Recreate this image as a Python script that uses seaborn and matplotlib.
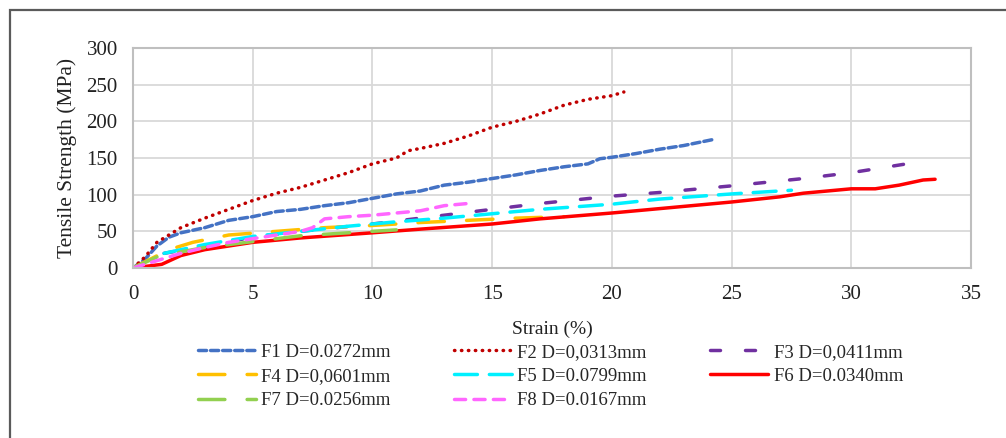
import matplotlib
matplotlib.use('Agg')
import matplotlib.pyplot as plt
import seaborn as sns
from matplotlib.patches import Rectangle

# Strain (%) / tensile strength (MPa)
f1_x = [0, 0.5, 1, 1.5, 2, 3, 4, 5, 6, 7, 8, 9, 10, 11, 12, 13, 14, 15, 16, 17, 18, 19, 19.5, 20, 21, 22, 23, 24.2]
f1_y = [0, 12, 30, 42, 48, 55, 65, 70, 77, 80, 85, 89, 95, 101, 105, 113, 117, 122, 127, 133, 138, 142, 149, 151, 156, 162, 167, 175]

f2_x = [0, 0.5, 1, 2, 3, 4, 5, 6, 7, 8, 9, 10, 11, 11.5, 12, 13, 14, 15, 16, 17, 18, 19, 20, 20.5]
f2_y = [0, 15, 35, 55, 68, 80, 92, 102, 110, 120, 130, 142, 150, 160, 163, 170, 180, 192, 200, 210, 222, 230, 235, 240]

f3_x = [1.3, 3, 5, 7, 10, 12, 14, 15, 17, 20, 22, 25, 28, 30, 32.5]
f3_y = [20, 30, 42, 50, 60, 68, 76, 80, 88, 98, 103, 112, 122, 130, 143]

f4_x = [0, 1.5, 2.5, 4, 6, 8, 10, 12, 14, 16, 18]
f4_y = [0, 25, 35, 45, 50, 55, 58, 62, 65, 68, 70]

f5_x = [1.3, 2, 3, 5, 7, 9, 11, 13, 15, 17, 20, 22, 25, 27.5]
f5_y = [20, 25, 32, 43, 50, 57, 63, 68, 74, 80, 87, 94, 101, 106]

f6_x = [0, 1.2, 2, 3, 4, 5, 7, 10, 12, 15, 17, 20, 22, 24, 25, 27, 28, 30, 31, 32, 33, 33.5]
f6_y = [0, 5, 17, 25, 30, 35, 41, 48, 53, 60, 67, 75, 81, 87, 90, 97, 102, 108, 108, 113, 120, 121]

f7_x = [0, 1, 2, 3, 4, 5, 6, 7, 8, 9, 10, 11]
f7_y = [0, 15, 22, 28, 32, 36, 40, 44, 46, 48, 50, 52]

f8_x = [0, 1, 2, 3, 4, 5, 6, 7, 7.5, 8, 9, 10, 11, 12, 13, 14, 14.2]
f8_y = [0, 10, 20, 28, 35, 40, 45, 50, 55, 67, 70, 72, 75, 78, 85, 88, 92]

labels = ['F1 D=0.0272mm', 'F2 D=0,0313mm', 'F3 D=0,0411mm', 'F4 D=0,0601mm',
          'F5 D=0.0799mm', 'F6 D=0.0340mm', 'F7 D=0.0256mm', 'F8 D=0.0167mm']

series = [(f1_x, f1_y), (f2_x, f2_y), (f3_x, f3_y), (f4_x, f4_y),
          (f5_x, f5_y), (f6_x, f6_y), (f7_x, f7_y), (f8_x, f8_y)]

colors = ['#4472C4', '#C00000', '#7030A0', '#FFC000',
          '#00F0FF', '#FF0000', '#92D050', '#FF66FF']
styles = [(0, (5.8, 2.9)), (0, (0.3, 4.7)), (0, (7.2, 18)), (0, (19, 16)),
          (0, (16.5, 8.6)), '-', (0, (19, 16)), (0, (8, 6))]

sns.set_theme(style='whitegrid', rc={'grid.color': '#D9D9D9', 'grid.linewidth': 1.3,
                                     'axes.edgecolor': '#BFBFBF', 'axes.linewidth': 1.5,
                                     'lines.scale_dashes': False})
plt.rcParams['font.family'] = ['Liberation Serif', 'DejaVu Serif']

fig = plt.figure(figsize=(10.06, 4.38), dpi=100)
ax = fig.add_axes([133 / 1006, 1 - 268 / 438, (971 - 133) / 1006, (268 - 48) / 438])

for (xs, ys), lab, c, ls in zip(series, labels, colors, styles):
    sns.lineplot(x=xs, y=ys, ax=ax, color=c, linewidth=2.5, label=lab, linestyle=ls,
                 sort=False)
for ln in ax.get_lines():
    ln.set_dash_capstyle('round')

ax.set_xlim(0, 35)
ax.set_ylim(0, 300)
ax.set_xticks(range(0, 36, 5))
ax.set_yticks(range(0, 301, 50))
ax.tick_params(labelsize=15, colors='#222222', length=0)
ax.tick_params(axis='y', pad=11)
ax.tick_params(axis='x', pad=12)
ax.set_xlabel('Strain (%)', fontsize=14, labelpad=12, color='#222222')
ax.set_ylabel('Tensile Strength (MPa)', fontsize=15.5, labelpad=7, color='#222222')

handles = ax.get_lines()
order = [0, 3, 6, 1, 4, 7, 2, 5]
ax.legend([handles[i] for i in order], [labels[i] for i in order], ncol=3,
          loc='upper center', bbox_to_anchor=(0.547, 0.237), bbox_transform=fig.transFigure,
          frameon=False, fontsize=13.5, handlelength=3.1, handletextpad=0.3,
          columnspacing=3.35, labelspacing=0.38, borderpad=0)

fig.patches.append(Rectangle((10 / 1006, -0.2), 1.2, 1 - 10 / 438 + 0.2,
                             transform=fig.transFigure, fill=False,
                             edgecolor='#5A5A5A', linewidth=1.6))

fig.savefig('out.png', dpi=100)
